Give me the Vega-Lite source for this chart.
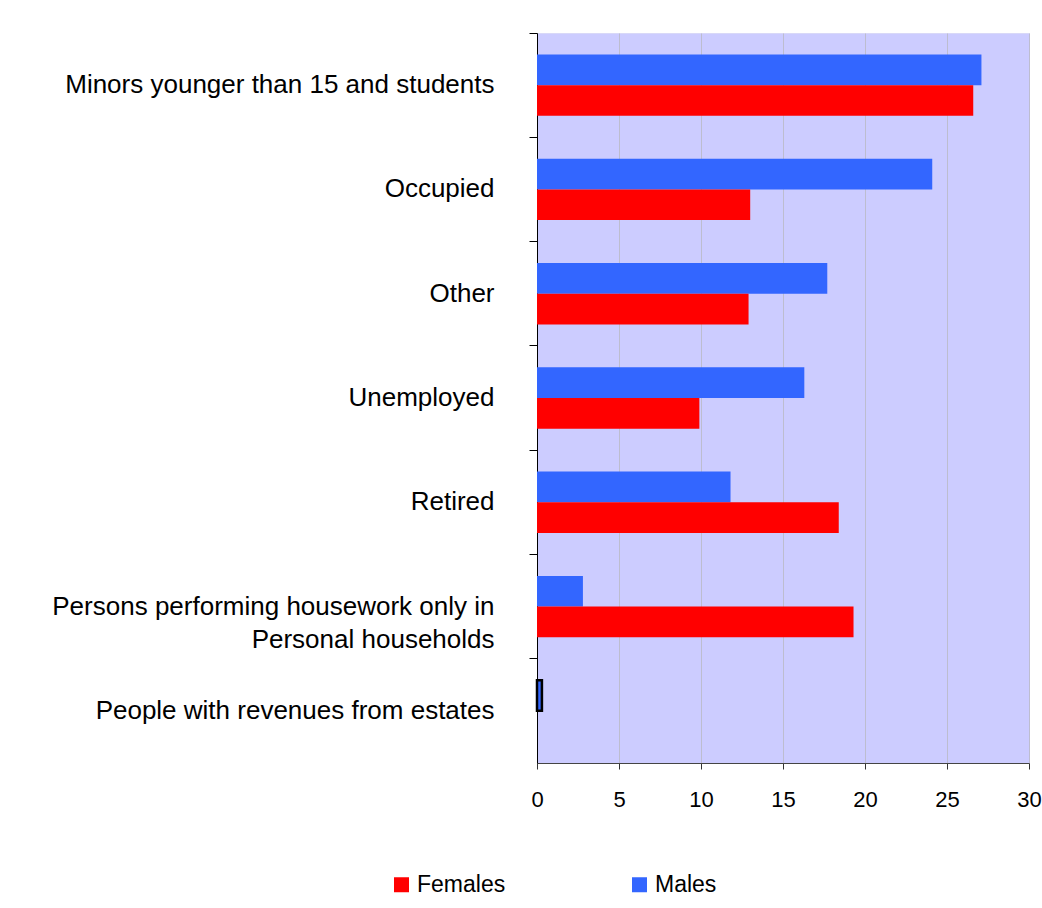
{
  "$schema": "https://vega.github.io/schema/vega-lite/v6.json",
  "width": 492,
  "height": 730,
  "autosize": {"type": "none"},
  "padding": {"left": 537, "top": 33, "right": 13, "bottom": 145},
  "background": "white",
  "config": {
    "font": "Liberation Sans",
    "view": {"fill": "#CCCCFF", "stroke": "#D8D8F8", "strokeWidth": 1}
  },
  "data": {
    "values": [
      {"category": "Minors younger than 15 and students", "sex": "Males", "value": 27.1},
      {"category": "Minors younger than 15 and students", "sex": "Females", "value": 26.6},
      {"category": "Occupied", "sex": "Males", "value": 24.1},
      {"category": "Occupied", "sex": "Females", "value": 13.0},
      {"category": "Other", "sex": "Males", "value": 17.7},
      {"category": "Other", "sex": "Females", "value": 12.9},
      {"category": "Unemployed", "sex": "Males", "value": 16.3},
      {"category": "Unemployed", "sex": "Females", "value": 9.9},
      {"category": "Retired", "sex": "Males", "value": 11.8},
      {"category": "Retired", "sex": "Females", "value": 18.4},
      {"category": "Persons performing housework only in\nPersonal households", "sex": "Males", "value": 2.8},
      {"category": "Persons performing housework only in\nPersonal households", "sex": "Females", "value": 19.3},
      {"category": "People with revenues from estates", "sex": "Males", "value": 0.3},
      {"category": "People with revenues from estates", "sex": "Females", "value": 0}
    ]
  },
  "encoding": {
    "y": {
      "field": "category",
      "type": "nominal",
      "sort": null,
      "scale": {"paddingInner": 0, "paddingOuter": 0},
      "axis": {
        "title": null,
        "bandPosition": 0,
        "tickSize": 8,
        "tickColor": "#000000",
        "domainColor": "#000000",
        "labelFontSize": 26,
        "labelColor": "#000000",
        "labelLimit": 0,
        "labelLineHeight": 33,
        "labelBaseline": "middle",
        "labelAlign": "right",
        "labelPadding": 35,
        "labelExpr": "split(datum.value, '\\n')"
      }
    },
    "yOffset": {
      "field": "sex",
      "type": "nominal",
      "sort": ["Males", "Females"],
      "scale": {"paddingInner": 0, "paddingOuter": 0.7}
    },
    "x": {
      "field": "value",
      "type": "quantitative",
      "scale": {"domain": [0, 30], "nice": false},
      "axis": {
        "title": null,
        "values": [0, 5, 10, 15, 20, 25, 30],
        "labelFlush": false,
        "grid": true,
        "gridColor": "#BDBDCF",
        "tickSize": 6,
        "tickColor": "#333333",
        "domainColor": "#444444",
        "labelFontSize": 22,
        "labelColor": "#000000",
        "labelPadding": 20
      }
    },
    "color": {
      "field": "sex",
      "type": "nominal",
      "scale": {"domain": ["Females", "Males"], "range": ["#FF0000", "#3366FF"]},
      "legend": {
        "title": null,
        "orient": "none",
        "direction": "horizontal",
        "legendX": -147,
        "legendY": 840,
        "columnPadding": 122,
        "symbolType": "square",
        "symbolSize": 225,
        "symbolStrokeWidth": 0,
        "labelFontSize": 23,
        "labelColor": "#000000"
      }
    }
  },
  "layer": [
    {"mark": {"type": "bar"}},
    {
      "transform": [{"filter": "datum.category === 'People with revenues from estates' && datum.sex === 'Males'"}],
      "mark": {"type": "bar", "stroke": "#000000", "strokeWidth": 2.5}
    }
  ]
}
